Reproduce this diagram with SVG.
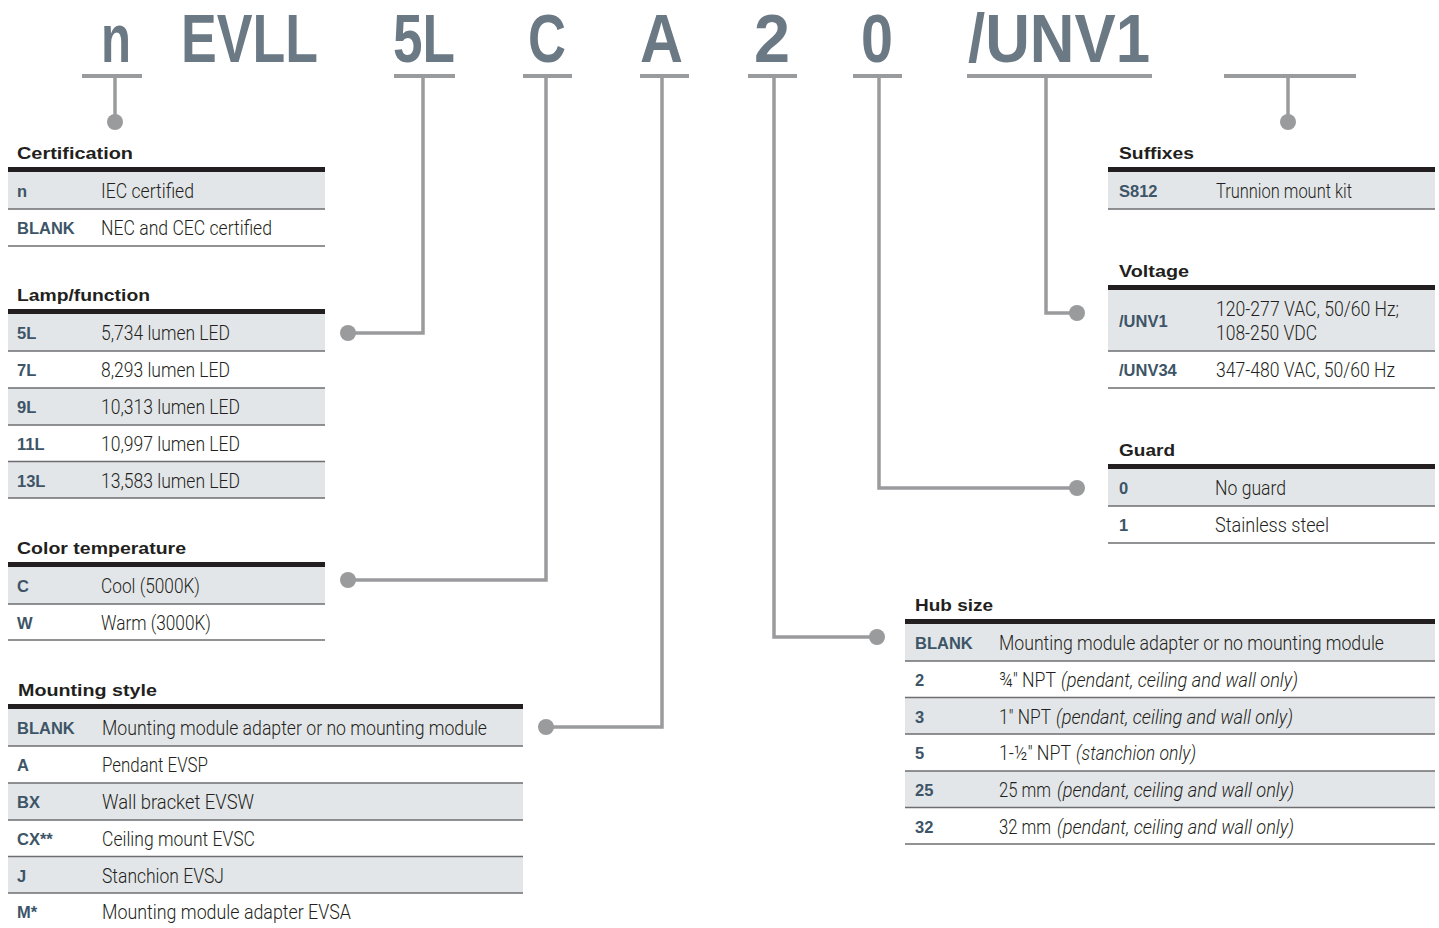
<svg xmlns="http://www.w3.org/2000/svg" width="1439" height="928" viewBox="0 0 1439 928">
<style>
.hdr{font-family:"Liberation Sans",Arial,sans-serif;font-weight:bold;font-size:68px;fill:#6b7985}
.ttl{font-family:"Liberation Sans",Arial,sans-serif;font-weight:bold;font-size:17px;fill:#231f20}
.code{font-family:"Liberation Sans",Arial,sans-serif;font-weight:bold;font-size:16.5px;fill:#3d5567}
.desc{font-family:"Roboto","Liberation Sans",Arial,sans-serif;font-weight:300;font-size:20px;fill:#231f20}
.it{font-style:italic}
.shade{fill:#e3e6e9}
.bar{fill:#231f20}
.sep{stroke:#6d6e71;stroke-width:1.5}
.conn{stroke:#9a9b9d;stroke-width:3.5;fill:none}
.ul{stroke:#9a9b9d;stroke-width:4}
.dot{fill:#9a9b9d}
</style>
<rect width="1439" height="928" fill="#ffffff"/>

<g id="code-header">
  <g id="seg-n"><text class="hdr" x="101" y="62" textLength="30" lengthAdjust="spacingAndGlyphs">n</text><line class="ul" x1="82" y1="76" x2="142" y2="76"/></g>
  <g id="seg-evll"><text class="hdr" x="181" y="62" textLength="137" lengthAdjust="spacingAndGlyphs">EVLL</text></g>
  <g id="seg-5l"><text class="hdr" x="393" y="62" textLength="62" lengthAdjust="spacingAndGlyphs">5L</text><line class="ul" x1="394" y1="76" x2="455" y2="76"/></g>
  <g id="seg-c"><text class="hdr" x="528" y="62" textLength="38" lengthAdjust="spacingAndGlyphs">C</text><line class="ul" x1="523" y1="76" x2="572" y2="76"/></g>
  <g id="seg-a"><text class="hdr" x="640" y="62" textLength="43" lengthAdjust="spacingAndGlyphs">A</text><line class="ul" x1="640" y1="76" x2="689" y2="76"/></g>
  <g id="seg-2"><text class="hdr" x="754" y="62" textLength="36" lengthAdjust="spacingAndGlyphs">2</text><line class="ul" x1="748" y1="76" x2="797" y2="76"/></g>
  <g id="seg-0"><text class="hdr" x="861" y="62" textLength="32" lengthAdjust="spacingAndGlyphs">0</text><line class="ul" x1="853" y1="76" x2="902" y2="76"/></g>
  <g id="seg-unv1"><text class="hdr" x="968" y="62" textLength="182" lengthAdjust="spacingAndGlyphs">/UNV1</text><line class="ul" x1="967" y1="76" x2="1152" y2="76"/></g>
  <g id="seg-suffix"><line class="ul" x1="1224" y1="76" x2="1356" y2="76"/></g>
</g>

<g id="connectors">
  <polyline class="conn" points="115,76 115,122"/><circle class="dot" cx="115" cy="122" r="8"/>
  <polyline class="conn" points="423,76 423,333 348,333"/><circle class="dot" cx="348" cy="333" r="8"/>
  <polyline class="conn" points="546,76 546,580 348,580"/><circle class="dot" cx="348" cy="580" r="8"/>
  <polyline class="conn" points="662,76 662,727 546,727"/><circle class="dot" cx="546" cy="727" r="8"/>
  <polyline class="conn" points="774,76 774,637 877,637"/><circle class="dot" cx="877" cy="637" r="8"/>
  <polyline class="conn" points="879,76 879,488 1077,488"/><circle class="dot" cx="1077" cy="488" r="8"/>
  <polyline class="conn" points="1046,76 1046,313 1077,313"/><circle class="dot" cx="1077" cy="313" r="8"/>
  <polyline class="conn" points="1288,76 1288,122"/><circle class="dot" cx="1288" cy="122" r="8"/>
</g>

<g id="certification">
  <text class="ttl" x="17" y="159" textLength="116" lengthAdjust="spacingAndGlyphs">Certification</text>
  <rect class="bar" x="8" y="167" width="317" height="5"/>
  <rect class="shade" x="8" y="172" width="317" height="37"/>
  <line class="sep" x1="8" y1="209" x2="325" y2="209"/>
  <line class="sep" x1="8" y1="246" x2="325" y2="246"/>
  <text class="code" x="17" y="197">n</text><text class="desc" x="101" y="198" textLength="93" lengthAdjust="spacingAndGlyphs">IEC certified</text>
  <text class="code" x="17" y="234">BLANK</text><text class="desc" x="101" y="235" textLength="171" lengthAdjust="spacingAndGlyphs">NEC and CEC certified</text>
</g>

<g id="lamp-function">
  <text class="ttl" x="17" y="301" textLength="133" lengthAdjust="spacingAndGlyphs">Lamp/function</text>
  <rect class="bar" x="8" y="309" width="317" height="5"/>
  <rect class="shade" x="8" y="314" width="317" height="37"/>
  <rect class="shade" x="8" y="388" width="317" height="37"/>
  <rect class="shade" x="8" y="461.5" width="317" height="36.5"/>
  <line class="sep" x1="8" y1="351" x2="325" y2="351"/>
  <line class="sep" x1="8" y1="388" x2="325" y2="388"/>
  <line class="sep" x1="8" y1="425" x2="325" y2="425"/>
  <line class="sep" x1="8" y1="461.5" x2="325" y2="461.5"/>
  <line class="sep" x1="8" y1="498" x2="325" y2="498"/>
  <text class="code" x="17" y="339">5L</text><text class="desc" x="101" y="340" textLength="129" lengthAdjust="spacingAndGlyphs">5,734 lumen LED</text>
  <text class="code" x="17" y="376">7L</text><text class="desc" x="101" y="377" textLength="129" lengthAdjust="spacingAndGlyphs">8,293 lumen LED</text>
  <text class="code" x="17" y="413">9L</text><text class="desc" x="101" y="414" textLength="139" lengthAdjust="spacingAndGlyphs">10,313 lumen LED</text>
  <text class="code" x="17" y="450">11L</text><text class="desc" x="101" y="451" textLength="139" lengthAdjust="spacingAndGlyphs">10,997 lumen LED</text>
  <text class="code" x="17" y="486.5">13L</text><text class="desc" x="101" y="487.5" textLength="139" lengthAdjust="spacingAndGlyphs">13,583 lumen LED</text>
</g>

<g id="color-temperature">
  <text class="ttl" x="17" y="554" textLength="169" lengthAdjust="spacingAndGlyphs">Color temperature</text>
  <rect class="bar" x="8" y="562" width="317" height="5"/>
  <rect class="shade" x="8" y="567" width="317" height="37"/>
  <line class="sep" x1="8" y1="604" x2="325" y2="604"/>
  <line class="sep" x1="8" y1="640" x2="325" y2="640"/>
  <text class="code" x="17" y="592">C</text><text class="desc" x="101" y="593" textLength="99" lengthAdjust="spacingAndGlyphs">Cool (5000K)</text>
  <text class="code" x="17" y="629">W</text><text class="desc" x="101" y="630" textLength="110" lengthAdjust="spacingAndGlyphs">Warm (3000K)</text>
</g>

<g id="mounting-style">
  <text class="ttl" x="18" y="696" textLength="139" lengthAdjust="spacingAndGlyphs">Mounting style</text>
  <rect class="bar" x="8" y="704" width="515" height="5"/>
  <rect class="shade" x="8" y="709" width="515" height="37"/>
  <rect class="shade" x="8" y="783" width="515" height="37"/>
  <rect class="shade" x="8" y="856.5" width="515" height="36.5"/>
  <line class="sep" x1="8" y1="746" x2="523" y2="746"/>
  <line class="sep" x1="8" y1="783" x2="523" y2="783"/>
  <line class="sep" x1="8" y1="820" x2="523" y2="820"/>
  <line class="sep" x1="8" y1="856.5" x2="523" y2="856.5"/>
  <line class="sep" x1="8" y1="893" x2="523" y2="893"/>
  <text class="code" x="17" y="734">BLANK</text><text class="desc" x="102" y="735" textLength="385" lengthAdjust="spacingAndGlyphs">Mounting module adapter or no mounting module</text>
  <text class="code" x="17" y="771">A</text><text class="desc" x="102" y="772" textLength="106" lengthAdjust="spacingAndGlyphs">Pendant EVSP</text>
  <text class="code" x="17" y="808">BX</text><text class="desc" x="102" y="809" textLength="152" lengthAdjust="spacingAndGlyphs">Wall bracket EVSW</text>
  <text class="code" x="17" y="845">CX**</text><text class="desc" x="102" y="846" textLength="153" lengthAdjust="spacingAndGlyphs">Ceiling mount EVSC</text>
  <text class="code" x="17" y="881.5">J</text><text class="desc" x="102" y="882.5" textLength="122" lengthAdjust="spacingAndGlyphs">Stanchion EVSJ</text>
  <text class="code" x="17" y="918">M*</text><text class="desc" x="102" y="919" textLength="249" lengthAdjust="spacingAndGlyphs">Mounting module adapter EVSA</text>
</g>

<g id="suffixes">
  <text class="ttl" x="1119" y="159" textLength="75" lengthAdjust="spacingAndGlyphs">Suffixes</text>
  <rect class="bar" x="1108" y="167" width="327" height="5"/>
  <rect class="shade" x="1108" y="172" width="327" height="37"/>
  <line class="sep" x1="1108" y1="209" x2="1435" y2="209"/>
  <text class="code" x="1119" y="197">S812</text><text class="desc" x="1216" y="198" textLength="136" lengthAdjust="spacingAndGlyphs">Trunnion mount kit</text>
</g>

<g id="voltage">
  <text class="ttl" x="1119" y="277" textLength="70" lengthAdjust="spacingAndGlyphs">Voltage</text>
  <rect class="bar" x="1108" y="285" width="327" height="5"/>
  <rect class="shade" x="1108" y="290" width="327" height="61"/>
  <line class="sep" x1="1108" y1="351" x2="1435" y2="351"/>
  <line class="sep" x1="1108" y1="388" x2="1435" y2="388"/>
  <text class="code" x="1119" y="327">/UNV1</text>
  <text class="desc" x="1216" y="316" textLength="183" lengthAdjust="spacingAndGlyphs">120-277 VAC, 50/60 Hz;</text>
  <text class="desc" x="1216" y="340" textLength="101" lengthAdjust="spacingAndGlyphs">108-250 VDC</text>
  <text class="code" x="1119" y="376">/UNV34</text><text class="desc" x="1216" y="377" textLength="179" lengthAdjust="spacingAndGlyphs">347-480 VAC, 50/60 Hz</text>
</g>

<g id="guard">
  <text class="ttl" x="1119" y="456" textLength="56" lengthAdjust="spacingAndGlyphs">Guard</text>
  <rect class="bar" x="1108" y="464" width="327" height="5"/>
  <rect class="shade" x="1108" y="469" width="327" height="37"/>
  <line class="sep" x1="1108" y1="506" x2="1435" y2="506"/>
  <line class="sep" x1="1108" y1="543" x2="1435" y2="543"/>
  <text class="code" x="1119" y="494">0</text><text class="desc" x="1215" y="495" textLength="71" lengthAdjust="spacingAndGlyphs">No guard</text>
  <text class="code" x="1119" y="531">1</text><text class="desc" x="1215" y="532" textLength="114" lengthAdjust="spacingAndGlyphs">Stainless steel</text>
</g>

<g id="hub-size">
  <text class="ttl" x="915" y="611" textLength="78" lengthAdjust="spacingAndGlyphs">Hub size</text>
  <rect class="bar" x="905" y="619" width="530" height="5"/>
  <rect class="shade" x="905" y="624" width="530" height="37"/>
  <rect class="shade" x="905" y="697.5" width="530" height="36.5"/>
  <rect class="shade" x="905" y="771" width="530" height="36.5"/>
  <line class="sep" x1="905" y1="661" x2="1435" y2="661"/>
  <line class="sep" x1="905" y1="697.5" x2="1435" y2="697.5"/>
  <line class="sep" x1="905" y1="734" x2="1435" y2="734"/>
  <line class="sep" x1="905" y1="771" x2="1435" y2="771"/>
  <line class="sep" x1="905" y1="807.5" x2="1435" y2="807.5"/>
  <line class="sep" x1="905" y1="844" x2="1435" y2="844"/>
  <text class="code" x="915" y="649">BLANK</text><text class="desc" x="999" y="650" textLength="385" lengthAdjust="spacingAndGlyphs">Mounting module adapter or no mounting module</text>
  <text class="code" x="915" y="686">2</text>
  <text class="desc" x="999" y="687" textLength="57" lengthAdjust="spacingAndGlyphs">¾" NPT</text>
  <text class="desc it" x="1061" y="687" textLength="237" lengthAdjust="spacingAndGlyphs">(pendant, ceiling and wall only)</text>
  <text class="code" x="915" y="722.5">3</text>
  <text class="desc" x="999" y="723.5" textLength="52" lengthAdjust="spacingAndGlyphs">1" NPT</text>
  <text class="desc it" x="1056" y="723.5" textLength="237" lengthAdjust="spacingAndGlyphs">(pendant, ceiling and wall only)</text>
  <text class="code" x="915" y="759">5</text>
  <text class="desc" x="999" y="760" textLength="72" lengthAdjust="spacingAndGlyphs">1-½" NPT</text>
  <text class="desc it" x="1076" y="760" textLength="120" lengthAdjust="spacingAndGlyphs">(stanchion only)</text>
  <text class="code" x="915" y="796">25</text>
  <text class="desc" x="999" y="797" textLength="52" lengthAdjust="spacingAndGlyphs">25 mm</text>
  <text class="desc it" x="1057" y="797" textLength="237" lengthAdjust="spacingAndGlyphs">(pendant, ceiling and wall only)</text>
  <text class="code" x="915" y="832.5">32</text>
  <text class="desc" x="999" y="833.5" textLength="52" lengthAdjust="spacingAndGlyphs">32 mm</text>
  <text class="desc it" x="1057" y="833.5" textLength="237" lengthAdjust="spacingAndGlyphs">(pendant, ceiling and wall only)</text>
</g>
</svg>
